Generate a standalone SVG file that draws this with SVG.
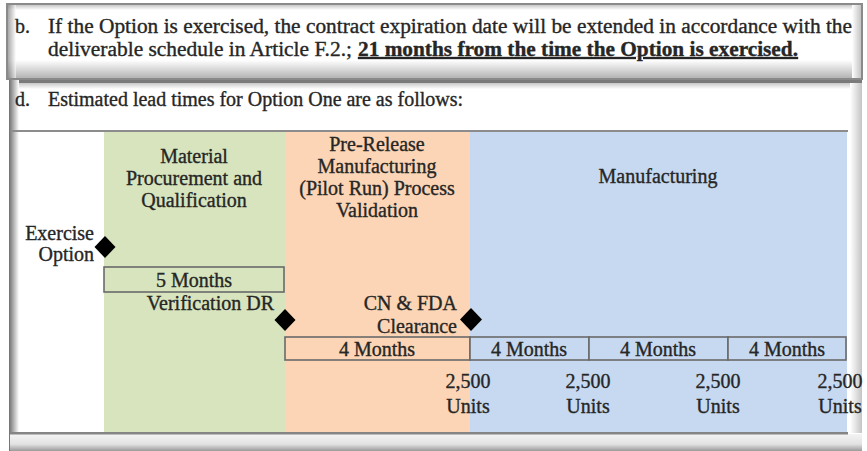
<svg xmlns="http://www.w3.org/2000/svg" width="867" height="451" viewBox="0 0 867 451">
<defs>
<linearGradient id="botShade" x1="0" y1="0" x2="0" y2="1">
<stop offset="0" stop-color="#ffffff"/>
<stop offset="1" stop-color="#b4b4b4"/>
</linearGradient>
<linearGradient id="topShade" x1="0" y1="0" x2="0" y2="1">
<stop offset="0" stop-color="#c8c8c8"/>
<stop offset="1" stop-color="#ffffff"/>
</linearGradient>
<linearGradient id="leftShade" x1="0" y1="0" x2="1" y2="0">
<stop offset="0" stop-color="#6f6f6f"/>
<stop offset="1" stop-color="#ffffff"/>
</linearGradient>
<linearGradient id="rightShade" x1="0" y1="0" x2="1" y2="0">
<stop offset="0" stop-color="#ffffff"/>
<stop offset="1" stop-color="#c4c4c4"/>
</linearGradient>
<linearGradient id="floorShade" x1="0" y1="0" x2="0" y2="1">
<stop offset="0" stop-color="#f4f4f4"/>
<stop offset="0.6" stop-color="#e2e2e2"/>
<stop offset="1" stop-color="#9a9a9a"/>
</linearGradient>
</defs>
<style>
text { font-family: "Liberation Serif", "Times New Roman", serif; fill: #262626; stroke: #262626; stroke-width: 0.35; }
.hdr { font-size: 20px; }
.lbl { font-size: 20px; }
.mid { text-anchor: middle; }
.end { text-anchor: end; }
.dur { stroke: #6a6a6a; stroke-width: 1.6; }
.ms { fill: #000; }
</style>
<rect x="0" y="0" width="867" height="451" fill="#ffffff"/>

<!-- top clause box -->
<g id="clause-b">
<rect x="7" y="4" width="855" height="75" fill="#ffffff" stroke="#8a8a8a" stroke-width="2"/>
<rect x="8" y="5" width="853" height="5" fill="url(#topShade)"/>
<rect x="8" y="60" width="853" height="18" fill="url(#botShade)"/>
<rect x="8" y="5" width="8" height="73" fill="url(#leftShade)" opacity="0.6"/>
<rect x="852" y="5" width="9" height="73" fill="url(#rightShade)"/>
<text class="hdr" x="15" y="33">b.</text>
<text class="hdr" x="48" y="33" textLength="804" lengthAdjust="spacingAndGlyphs">If the Option is exercised, the contract expiration date will be extended in accordance with the</text>
<text class="hdr" x="48" y="56" textLength="304" lengthAdjust="spacingAndGlyphs">deliverable schedule in Article F.2.;</text>
<text class="hdr" x="358" y="56" textLength="440" lengthAdjust="spacingAndGlyphs" font-weight="bold" text-decoration="underline">21 months from the time the Option is exercised.</text>
</g>

<!-- lower box frame -->
<g id="clause-d-frame">
<rect x="9" y="80" width="853" height="3" fill="#7a7a7a"/>
<rect x="9" y="83" width="853" height="6" fill="url(#topShade)"/>
<rect x="9" y="80" width="10" height="371" fill="url(#leftShade)"/>
<rect x="850" y="83" width="12" height="350" fill="url(#rightShade)"/>
<rect x="10" y="130" width="838" height="2" fill="#8c8c8c"/>
<rect x="10" y="434" width="852" height="17" fill="url(#floorShade)"/>
<rect x="10" y="432" width="838" height="2.5" fill="#858585"/>
<text class="hdr" x="15" y="106">d.</text>
<text class="hdr" x="48" y="106" textLength="415" lengthAdjust="spacingAndGlyphs">Estimated lead times for Option One are as follows:</text>
</g>

<!-- phase columns -->
<g id="phase-material">
<rect x="104" y="132" width="181" height="300" fill="#d7e4bd"/>
<text class="lbl mid" x="194" y="163">Material</text>
<text class="lbl mid" x="194" y="185">Procurement and</text>
<text class="lbl mid" x="194" y="207">Qualification</text>
</g>
<g id="phase-prerelease">
<rect x="285" y="132" width="185" height="300" fill="#fbd5b5"/>
<text class="lbl mid" x="377" y="151">Pre-Release</text>
<text class="lbl mid" x="377" y="173">Manufacturing</text>
<text class="lbl mid" x="377" y="195">(Pilot Run) Process</text>
<text class="lbl mid" x="377" y="217">Validation</text>
</g>
<g id="phase-manufacturing">
<rect x="470" y="132" width="377" height="300" fill="#c6d9f0"/>
<text class="lbl mid" x="658" y="183">Manufacturing</text>
</g>

<!-- milestones -->
<g id="ms-exercise">
<text class="lbl end" x="94" y="240">Exercise</text>
<text class="lbl end" x="94" y="261">Option</text>
<polygon class="ms" points="105,236 115.5,247 105,258 94.5,247"/>
</g>
<g id="ms-verification">
<text class="lbl end" x="274" y="310">Verification DR</text>
<polygon class="ms" points="285,309 295.5,320 285,331 274.5,320"/>
</g>
<g id="ms-clearance">
<text class="lbl end" x="457" y="310">CN &amp; FDA</text>
<text class="lbl end" x="457" y="333">Clearance</text>
<polygon class="ms" points="471,308 482,319.5 471,331 460,319.5"/>
</g>

<!-- duration bars -->
<g id="dur-5months">
<rect class="dur" x="104" y="267" width="180" height="25" fill="#d7e4bd"/>
<text class="lbl mid" x="194" y="287">5 Months</text>
</g>
<g id="dur-4months-a">
<rect class="dur" x="285" y="337" width="185" height="23" fill="#fbd5b5"/>
<text class="lbl mid" x="377" y="356">4 Months</text>
</g>
<g id="dur-4months-b">
<rect class="dur" x="470" y="337" width="119" height="23" fill="#c6d9f0"/>
<text class="lbl mid" x="529" y="356">4 Months</text>
</g>
<g id="dur-4months-c">
<rect class="dur" x="589" y="337" width="139" height="23" fill="#c6d9f0"/>
<text class="lbl mid" x="658" y="356">4 Months</text>
</g>
<g id="dur-4months-d">
<rect class="dur" x="728" y="337" width="118" height="23" fill="#c6d9f0"/>
<text class="lbl mid" x="787" y="356">4 Months</text>
</g>

<!-- deliveries -->
<g id="units-1">
<text class="lbl mid" x="468" y="388">2,500</text>
<text class="lbl mid" x="468" y="413">Units</text>
</g>
<g id="units-2">
<text class="lbl mid" x="588" y="388">2,500</text>
<text class="lbl mid" x="588" y="413">Units</text>
</g>
<g id="units-3">
<text class="lbl mid" x="718" y="388">2,500</text>
<text class="lbl mid" x="718" y="413">Units</text>
</g>
<g id="units-4">
<text class="lbl mid" x="840" y="388">2,500</text>
<text class="lbl mid" x="840" y="413">Units</text>
</g>

<g id="connectors"></g>
</svg>
